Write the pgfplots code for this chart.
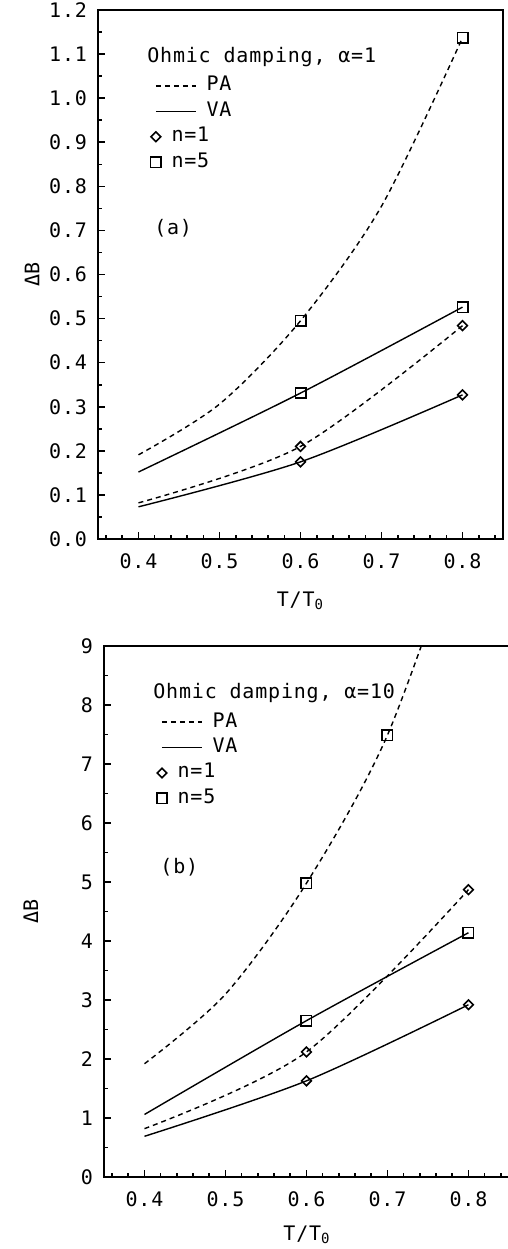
\documentclass[border=0pt]{standalone}
\usepackage{fontspec}
\setmainfont{DejaVu Sans Mono}[LetterSpace=4]
\usepackage{pgfplots}
\pgfplotsset{compat=1.18}

\pgfplotsset{
  panel/.style={
    scale only axis, xmin=0.35, xmax=0.85,
    xtick={0.4,0.5,0.6,0.7,0.8},
    minor xtick={0.36,0.38,0.42,0.44,0.46,0.48,0.52,0.54,0.56,0.58,0.62,0.64,0.66,0.68,0.72,0.74,0.76,0.78,0.82,0.84},
    tick align=inside, xtick pos=bottom, ytick pos=left,
    major tick length=3.5pt, minor tick length=2pt,
    every tick/.append style={black, line width=0.8pt},
    axis line style={line width=1pt},
    /pgf/number format/assume math mode=true,
    xticklabel={\pgfmathprintnumber[fixed,fixed zerofill,precision=1]{\tick}},
    xticklabel style={yshift=-3.7pt},
    yticklabel style={xshift=-2pt},
    xlabel={T/T\textsubscript{0}}, ylabel={ΔB},
    every axis y label/.style={rotate=90, anchor=center},
    every axis x label/.style={anchor=center},
    legend style={draw=none, fill=none, inner sep=0pt, anchor=north west, row sep=1.7pt,
      nodes={inner sep=1pt, text height=7pt, text depth=2pt},
      /tikz/every odd column/.append style={column sep=4pt}},
    legend cell align=left,
  },
  pa/.style={black, line width=0.7pt, dash pattern=on 2.5pt off 2pt, smooth},
  va/.style={black, line width=0.7pt, solid, smooth},
  n1/.style={mark=square, mark size=1.7pt, mark options={solid, rotate=45, line width=0.8pt}},
  n5/.style={mark=square, mark size=2.6pt, mark options={solid, line width=0.8pt}},
  legline/.style={legend image code/.code={\draw[##1] (0pt,0pt) -- (20pt,0pt);}},
  legmark/.style={legend image code/.code={\draw[black, ##1] plot coordinates {(0pt,0pt)};}},
}

\begin{document}
\begin{tikzpicture}
\useasboundingbox (0,0) rectangle (254pt,-624.5pt);

% (a) alpha = 1
\begin{axis}[panel, at={(49pt,-269.5pt)}, anchor=south west,
  width=202.5pt, height=264.5pt,
  ymin=0, ymax=1.2,
  ytick={0,0.1,0.2,0.3,0.4,0.5,0.6,0.7,0.8,0.9,1.0,1.1,1.2},
  minor ytick={0.05,0.15,0.25,0.35,0.45,0.55,0.65,0.75,0.85,0.95,1.05,1.15},
  yticklabel={\pgfmathprintnumber[fixed,fixed zerofill,precision=1]{\tick}},
  ylabel style={at={(axis description cs:-0.163,0.5)}},
  xlabel style={at={(axis description cs:0.5,-0.117)}},
  legend style={at={(axis description cs:0.129,0.878)}},
]
\addplot[pa, n5, mark indices={3,5}, forget plot] coordinates {(0.4,0.191) (0.5,0.306) (0.6,0.495) (0.7,0.755) (0.8,1.137)};
\addplot[va, n5, mark indices={2,3}, forget plot] coordinates {(0.4,0.152) (0.6,0.331) (0.8,0.526)};
\addplot[pa, n1, mark indices={2,3}, forget plot] coordinates {(0.4,0.082) (0.6,0.210) (0.8,0.484)};
\addplot[va, n1, mark indices={2,3}, forget plot] coordinates {(0.4,0.073) (0.6,0.175) (0.8,0.327)};
\addlegendimage{legline, pa}
\addlegendentry{PA}
\addlegendimage{legline, va}
\addlegendentry{VA}
\addlegendimage{legmark, n1}
\addlegendentry{\hspace{-17.5pt}n=1}
\addlegendimage{legmark, n5}
\addlegendentry{\hspace{-17.5pt}n=5}
\node[anchor=base west, inner sep=0pt] at (axis description cs:0.121,0.9017) {Ohmic damping, α=1};
\node[anchor=base west, inner sep=0pt] at (axis description cs:0.138,0.575) {(a)};
\end{axis}

% (b) alpha = 10
\begin{axis}[panel, at={(52pt,-588.5pt)}, anchor=south west,
  width=203pt, height=265.5pt, xmax=0.8513,
  ymin=0, ymax=9,
  ytick={0,1,2,3,4,5,6,7,8,9},
  minor ytick={0.5,1.5,2.5,3.5,4.5,5.5,6.5,7.5,8.5},
  ylabel style={at={(axis description cs:-0.18,0.5)}},
  xlabel style={at={(axis description cs:0.5,-0.109)}},
  legend style={at={(axis description cs:0.129,0.878)}},
]
\addplot[pa, n5, mark indices={3,4}, forget plot] coordinates {(0.4,1.92) (0.5,3.10) (0.6,4.98) (0.7,7.49) (0.8,11.3)};
\addplot[va, n5, mark indices={2,3}, forget plot] coordinates {(0.4,1.06) (0.6,2.65) (0.8,4.14)};
\addplot[pa, n1, mark indices={2,3}, forget plot] coordinates {(0.4,0.82) (0.6,2.12) (0.8,4.87)};
\addplot[va, n1, mark indices={2,3}, forget plot] coordinates {(0.4,0.69) (0.6,1.63) (0.8,2.92)};
\addlegendimage{legline, pa}
\addlegendentry{PA}
\addlegendimage{legline, va}
\addlegendentry{VA}
\addlegendimage{legmark, n1}
\addlegendentry{\hspace{-17.5pt}n=1}
\addlegendimage{legmark, n5}
\addlegendentry{\hspace{-17.5pt}n=5}
\node[anchor=base west, inner sep=0pt] at (axis description cs:0.1207,0.902) {Ohmic damping, α=10};
\node[anchor=base west, inner sep=0pt] at (axis description cs:0.138,0.5725) {(b)};
\end{axis}
\end{tikzpicture}
\end{document}
